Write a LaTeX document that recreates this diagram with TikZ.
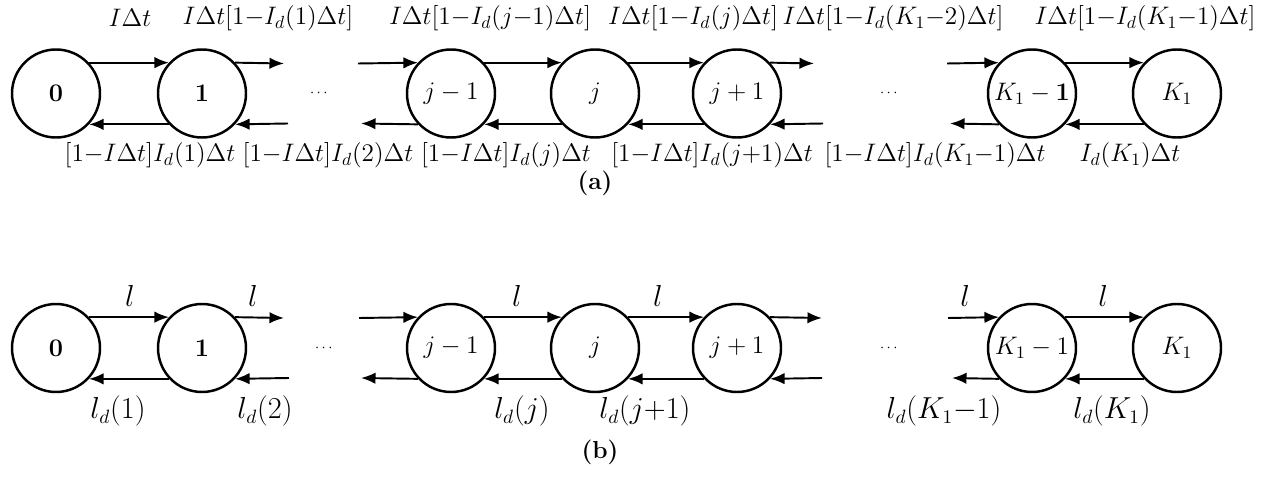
\documentclass[tikz,border=0pt]{standalone}
\usepackage{amsmath}
\usepackage{tikz}
\usetikzlibrary{arrows.meta}

\begin{document}
\begin{tikzpicture}[
    every node/.style={font=\fontsize{14}{16}\selectfont, align=center},
    state/.style={circle, draw=black, line width=1.4pt, minimum size=1.76cm, inner sep=0pt},
    arrow/.style={-{Latex[length=2.9mm,width=2.3mm]}, line width=1.1pt, draw=black},
    dots/.style={font=\footnotesize},
    blabel/.style={font=\fontsize{16}{18}\selectfont},
    caption/.style={font=\fontsize{14}{16}\selectfont\bfseries}
]
    \useasboundingbox (0,0) rectangle (25.4,9.58);

    % (a) discrete time chain
    \node[state] (a0) at (1.12,7.71) {$\mathbf{0}$};
    \node[state] (a1) at (4.04,7.71) {$\mathbf{1}$};
    \node[dots] (adots1) at (6.40,7.71) {$\cdots$};
    \node[state] (aj1) at (9.02,7.71) {$j-1$};
    \node[state] (aj) at (11.90,7.71) {$j$};
    \node[state] (ajp) at (14.74,7.71) {$j+1$};
    \node[dots] (adots2) at (17.80,7.71) {$\cdots$};
    \node[state] (aK1) at (20.64,7.71) {$K_1-\mathbf{1}$};
    \node[state] (aK) at (23.54,7.71) {$K_1$};

    \coordinate (a1r) at (5.68,8.31);
    \coordinate (a1rb) at (5.76,7.11);
    \coordinate (aj1l) at (7.16,8.31);
    \coordinate (aj1lb) at (7.22,7.11);
    \coordinate (ajpr) at (16.28,8.31);
    \coordinate (ajprb) at (16.46,7.11);
    \coordinate (aK1l) at (18.94,8.31);
    \coordinate (aK1lb) at (19.00,7.11);

    \draw[arrow] (a0.43) -- (a1.137);
    \draw[arrow] (a1.43) -- (a1r);
    \draw[arrow] (aj1l) -- (aj1.137);
    \draw[arrow] (aj1.43) -- (aj.137);
    \draw[arrow] (aj.43) -- (ajp.137);
    \draw[arrow] (ajp.43) -- (ajpr);
    \draw[arrow] (aK1l) -- (aK1.137);
    \draw[arrow] (aK1.43) -- (aK.137);

    \draw[arrow] (a1.-137) -- (a0.-43);
    \draw[arrow] (a1rb) -- (a1.-43);
    \draw[arrow] (aj1.-137) -- (aj1lb);
    \draw[arrow] (aj.-137) -- (aj1.-43);
    \draw[arrow] (ajp.-137) -- (aj.-43);
    \draw[arrow] (ajprb) -- (ajp.-43);
    \draw[arrow] (aK1.-137) -- (aK1lb);
    \draw[arrow] (aK.-137) -- (aK1.-43);

    \node (ta01) at (2.60,9.22) {$I\Delta t$};
    \node (ta1) at (5.36,9.22) {$I\Delta t[1{-}I_d(1)\Delta t]$};
    \node (taj1) at (9.80,9.22) {$I\Delta t[1{-}I_d(j{-}1)\Delta t]$};
    \node (taj) at (13.86,9.22) {$I\Delta t[1{-}I_d(j)\Delta t]$};
    \node (taK2) at (17.86,9.22) {$I\Delta t[1{-}I_d(K_1{-}2)\Delta t]$};
    \node (taK1) at (22.90,9.22) {$I\Delta t[1{-}I_d(K_1{-}1)\Delta t]$};

    \node (ba1) at (3.00,6.48) {$[1{-}I\Delta t]I_d(1)\Delta t$};
    \node (ba2) at (6.56,6.48) {$[1{-}I\Delta t]I_d(2)\Delta t$};
    \node (baj) at (10.12,6.48) {$[1{-}I\Delta t]I_d(j)\Delta t$};
    \node (bajp) at (14.24,6.48) {$[1{-}I\Delta t]I_d(j{+}1)\Delta t$};
    \node (baK1) at (18.70,6.48) {$[1{-}I\Delta t]I_d(K_1{-}1)\Delta t$};
    \node (baK) at (22.60,6.48) {$I_d(K_1)\Delta t$};

    \node[caption] (capa) at (11.90,5.92) {(a)};

    % (b) continuous time chain
    \node[state] (b0) at (1.12,2.62) {$\mathbf{0}$};
    \node[state] (b1) at (4.04,2.62) {$\mathbf{1}$};
    \node[dots] (bdots1) at (6.50,2.62) {$\cdots$};
    \node[state] (bj1) at (9.02,2.62) {$j-1$};
    \node[state] (bj) at (11.90,2.62) {$j$};
    \node[state] (bjp) at (14.74,2.62) {$j+1$};
    \node[dots] (bdots2) at (17.80,2.62) {$\cdots$};
    \node[state] (bK1) at (20.64,2.62) {$K_1-1$};
    \node[state] (bK) at (23.54,2.62) {$K_1$};

    \coordinate (b1r) at (5.68,3.22);
    \coordinate (b1rb) at (5.78,2.02);
    \coordinate (bj1l) at (7.18,3.22);
    \coordinate (bj1lb) at (7.22,2.02);
    \coordinate (bjpr) at (16.44,3.22);
    \coordinate (bjprb) at (16.44,2.02);
    \coordinate (bK1l) at (18.96,3.22);
    \coordinate (bK1lb) at (19.04,2.02);

    \draw[arrow] (b0.43) -- (b1.137);
    \draw[arrow] (b1.43) -- (b1r);
    \draw[arrow] (bj1l) -- (bj1.137);
    \draw[arrow] (bj1.43) -- (bj.137);
    \draw[arrow] (bj.43) -- (bjp.137);
    \draw[arrow] (bjp.43) -- (bjpr);
    \draw[arrow] (bK1l) -- (bK1.137);
    \draw[arrow] (bK1.43) -- (bK.137);

    \draw[arrow] (b1.-137) -- (b0.-43);
    \draw[arrow] (b1rb) -- (b1.-43);
    \draw[arrow] (bj1.-137) -- (bj1lb);
    \draw[arrow] (bj.-137) -- (bj1.-43);
    \draw[arrow] (bjp.-137) -- (bj.-43);
    \draw[arrow] (bjprb) -- (bjp.-43);
    \draw[arrow] (bK1.-137) -- (bK1lb);
    \draw[arrow] (bK.-137) -- (bK1.-43);

    \node[blabel] (tb01) at (2.60,3.66) {$l$};
    \node[blabel] (tb1) at (5.06,3.66) {$l$};
    \node[blabel] (tbj1) at (10.34,3.66) {$l$};
    \node[blabel] (tbj) at (13.16,3.66) {$l$};
    \node[blabel] (tbK2) at (19.30,3.66) {$l$};
    \node[blabel] (tbK1) at (22.06,3.66) {$l$};

    \node[blabel] (bb1) at (2.36,1.36) {$l_d(1)$};
    \node[blabel] (bb2) at (5.30,1.36) {$l_d(2)$};
    \node[blabel] (bbj) at (10.44,1.36) {$l_d(j)$};
    \node[blabel] (bbjp) at (12.90,1.36) {$l_d(j{+}1)$};
    \node[blabel] (bbK1) at (18.88,1.36) {$l_d(K_1{-}1)$};
    \node[blabel] (bbK) at (22.24,1.36) {$l_d(K_1)$};

    \node[caption] (capb) at (12.00,0.54) {(b)};
\end{tikzpicture}
\end{document}
